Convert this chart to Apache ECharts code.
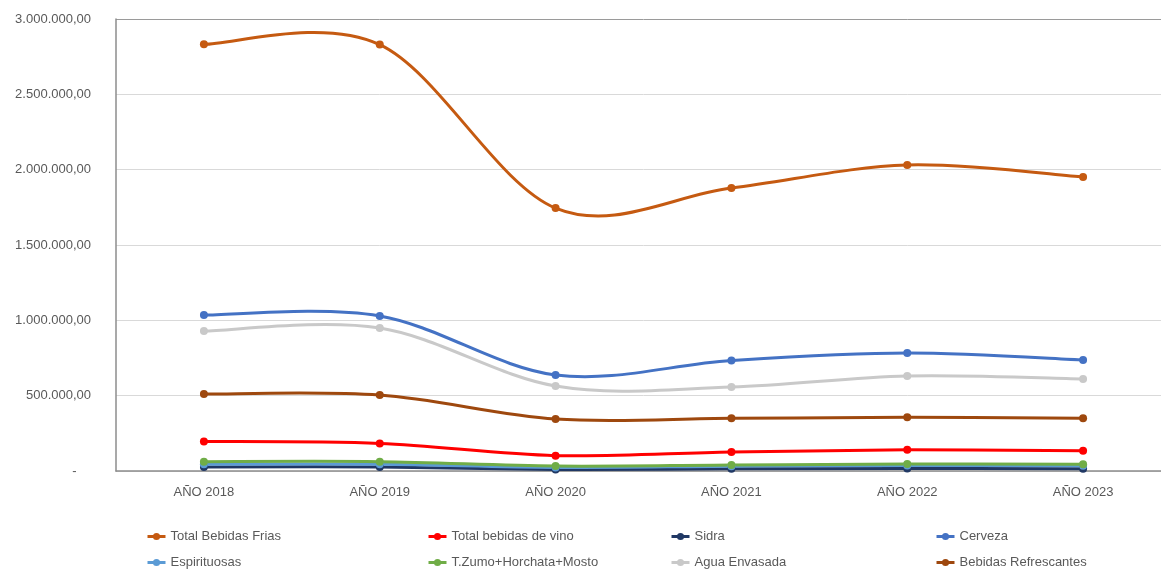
<!DOCTYPE html>
<html>
<head>
<meta charset="utf-8">
<script src="https://cdn.jsdelivr.net/npm/echarts@6/dist/echarts.min.js"></script>
<style>
  html, body { margin: 0; padding: 0; overflow: hidden; background: #fff; }
  #chart { width: 1171px; height: 570px; }
</style>
</head>
<body>
<div id="chart"></div>
<script>
const years = ['AÑO 2018', 'AÑO 2019', 'AÑO 2020', 'AÑO 2021', 'AÑO 2022', 'AÑO 2023']

const totalBebidasFrias = [2832000, 2830000, 1745000, 1878000, 2031000, 1951000]
const totalVino = [196000, 183000, 102000, 126000, 141000, 134000]
const sidra = [27000, 27000, 10000, 15000, 16000, 15000]
const cerveza = [1035000, 1029000, 637000, 733000, 783000, 737000]
const espirituosas = [45000, 45000, 24000, 32000, 37000, 35000]
const zumoHorchataMosto = [62000, 62000, 33000, 40000, 46000, 44000]
const aguaEnvasada = [929000, 949000, 564000, 557000, 631000, 611000]
const bebidasRefrescantes = [511000, 504000, 345000, 350000, 356000, 350000]

const seriesDefs = [
  { name: 'Total Bebidas Frias', data: totalBebidasFrias, color: '#C55A11' },
  { name: 'Total bebidas de vino', data: totalVino, color: '#FF0000' },
  { name: 'Sidra', data: sidra, color: '#203864' },
  { name: 'Cerveza', data: cerveza, color: '#4472C4' },
  { name: 'Espirituosas', data: espirituosas, color: '#5B9BD5' },
  { name: 'T.Zumo+Horchata+Mosto', data: zumoHorchataMosto, color: '#70AD47' },
  { name: 'Agua Envasada', data: aguaEnvasada, color: '#C9C9C9' },
  { name: 'Bebidas Refrescantes', data: bebidasRefrescantes, color: '#9E480E' }
]

// legend grid: 4 columns x 2 rows
const legendCols = [146, 427, 670, 935]
const legendRows = [530, 556]

function fmt(v) {
  if (v === 0) return '-    '
  const s = v.toFixed(2).split('.')
  return s[0].replace(/\B(?=(\d{3})+(?!\d))/g, '.') + ',' + s[1]
}

// Excel-like smoothed line (catmull-rom -> bezier), one segment per data item
function curveRenderer(values, color) {
  return function (params, api) {
    const i = params.dataIndex
    if (i >= values.length - 1) return null
    const pt = k => {
      const j = Math.max(0, Math.min(values.length - 1, k))
      return api.coord([j, values[j]])
    }
    const p0 = pt(i - 1), p1 = pt(i), p2 = pt(i + 1), p3 = pt(i + 2)
    return {
      type: 'bezierCurve',
      shape: {
        x1: p1[0], y1: p1[1],
        x2: p2[0], y2: p2[1],
        cpx1: p1[0] + (p2[0] - p0[0]) / 6,
        cpy1: p1[1] + (p2[1] - p0[1]) / 6,
        cpx2: p2[0] - (p3[0] - p1[0]) / 6,
        cpy2: p2[1] - (p3[1] - p1[1]) / 6
      },
      style: { stroke: color, fill: null, lineWidth: 3, lineCap: 'round' },
      silent: true
    }
  }
}

const series = []
seriesDefs.forEach(s => {
  series.push({
    name: s.name + ' (curva)',
    type: 'custom',
    data: s.data.map((v, i) => [i, v]),
    renderItem: curveRenderer(s.data, s.color),
    clip: false
  })
  series.push({
    name: s.name,
    type: 'line',
    data: s.data,
    symbol: 'circle',
    symbolSize: 8,
    color: s.color,
    lineStyle: { width: 3, color: s.color, opacity: 0 },
    itemStyle: { color: s.color }
  })
})

const chart = echarts.init(document.getElementById('chart'))

chart.setOption({
  animation: false,
  textStyle: { fontFamily: 'Liberation Sans' },
  grid: { left: 116, right: 0, top: 19, bottom: 99 },
  legend: seriesDefs.map((s, i) => ({
    data: [s.name],
    left: legendCols[i % 4],
    top: legendRows[Math.floor(i / 4)],
    padding: 0,
    itemWidth: 18,
    itemHeight: 9,
    lineStyle: { width: 3, opacity: 1, color: s.color },
    textStyle: { color: '#595959', fontSize: 13, fontFamily: 'Liberation Sans' }
  })),
  xAxis: {
    type: 'category',
    data: years,
    boundaryGap: true,
    axisLine: { lineStyle: { color: '#8c8c8c', width: 1.5 } },
    axisTick: { show: false },
    axisLabel: { color: '#595959', fontSize: 13, margin: 15 }
  },
  yAxis: {
    type: 'value',
    min: 0,
    max: 3000000,
    interval: 500000,
    axisLine: { show: true, lineStyle: { color: '#8c8c8c', width: 1.5 } },
    axisTick: { show: false },
    axisLabel: { color: '#595959', fontSize: 13, margin: 25, formatter: fmt },
    splitLine: {
      lineStyle: {
        color: ['#d9d9d9', '#d9d9d9', '#d9d9d9', '#d9d9d9', '#d9d9d9', '#d9d9d9', '#9a9a9a'],
        width: 1
      }
    }
  },
  series: series
})
</script>
</body>
</html>
